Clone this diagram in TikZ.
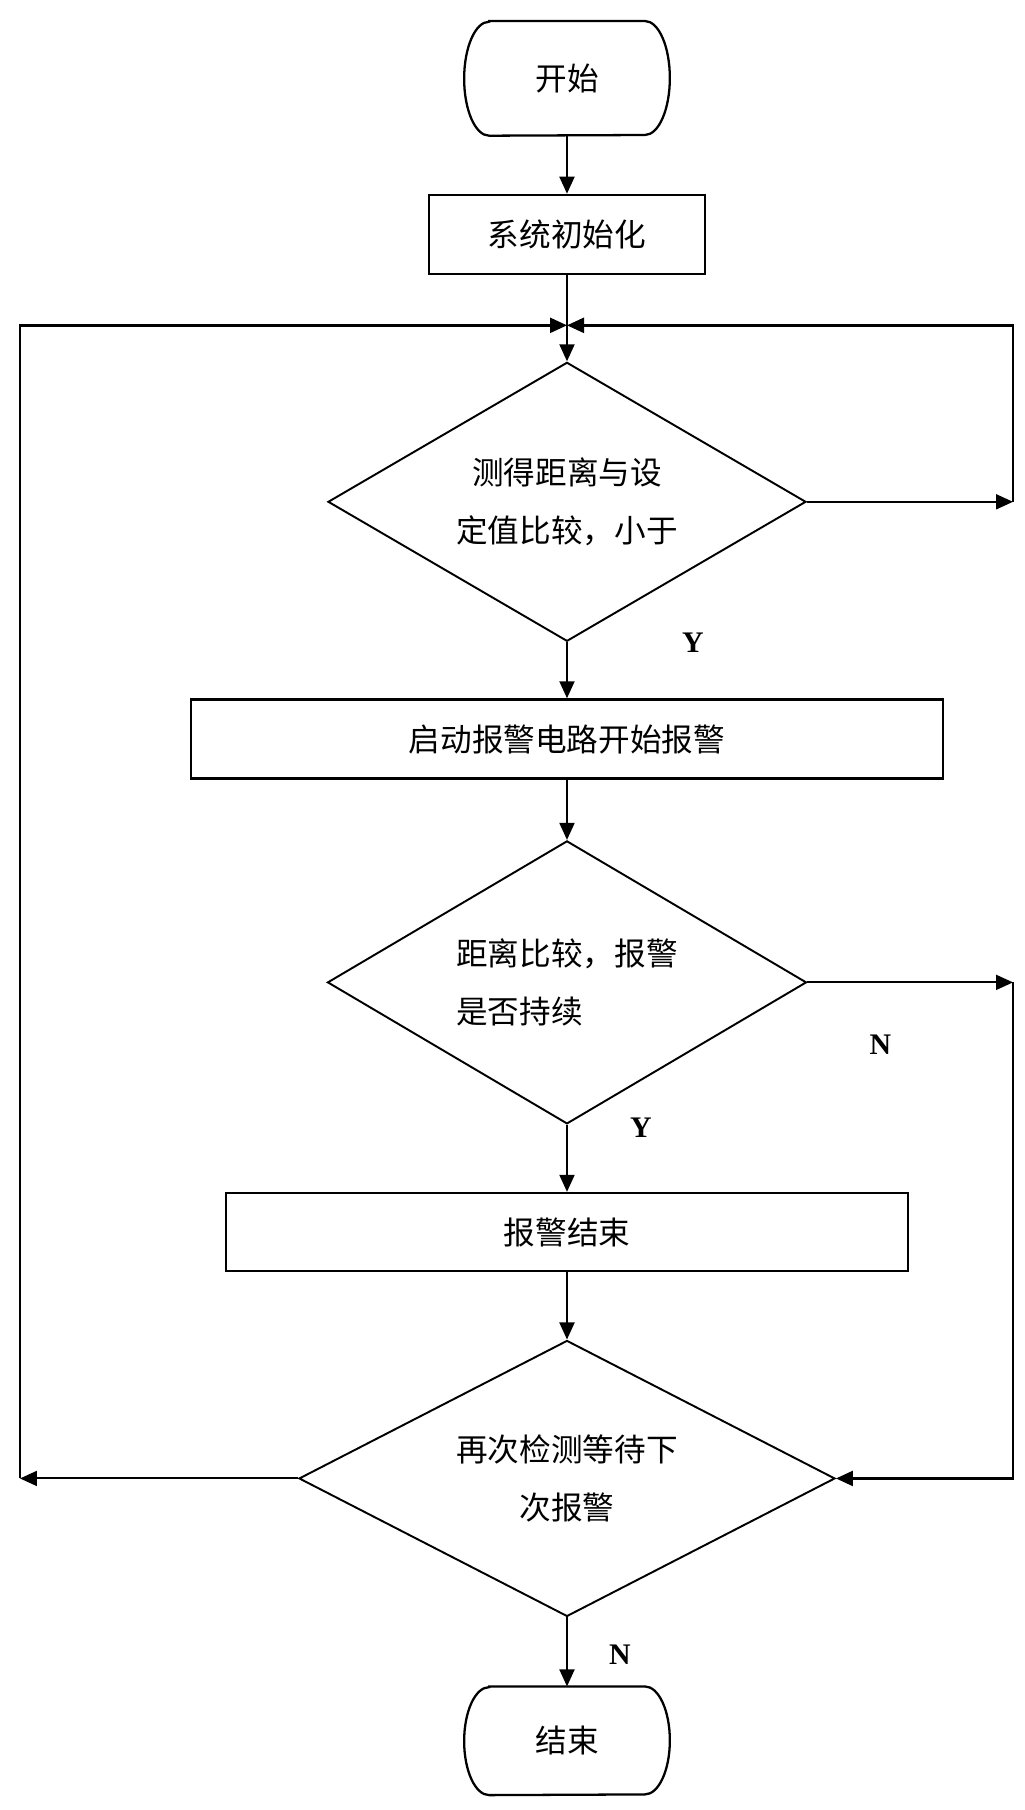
\documentclass[tikz,border=0pt]{standalone}
\usepackage{fontspec}
\setmainfont{Noto Sans CJK SC}
\newfontfamily\labfont{Liberation Serif}
\usetikzlibrary{shapes.geometric,positioning,calc,arrows.meta}

\begin{document}
\begin{tikzpicture}[font=\fontsize{18}{33}\selectfont,node distance=12mm,
 bx/.style={draw,line width=1.5pt,inner sep=0pt,minimum height=1.58cm},
 dm/.style={diamond,draw,line width=1.1pt,aspect=1.7,inner sep=0pt,align=center},
 tm/.style={inner sep=0pt,minimum width=4.1cm},
 ar/.style={-{Triangle[length=3.4mm,width=3mm]},line width=1.1pt},
 lp/.style={-{Triangle[length=3.4mm,width=3mm]},line width=1.4pt},
 lb/.style={font=\labfont\bfseries\fontsize{17}{20}\selectfont}]
\node[tm,minimum height=2.28cm] (st) {开始};
\node[bx,below=11.6mm of st,minimum width=5.52cm] (init) {系统初始化};
\node[dm,below=17.2mm of init,minimum width=9.56cm,minimum height=5.58cm] (d1) {测得距离与设\\定值比较，小于};
\node[bx,below=11.2mm of d1,minimum width=15.04cm] (b2) {启动报警电路开始报警};
\node[dm,below=12mm of b2,minimum width=9.58cm,minimum height=5.66cm,align=left] (d2) {距离比较，报警\\是否持续};
\node[bx,below=13.4mm of d2,minimum width=13.64cm,minimum height=1.56cm] (b3) {报警结束};
\node[dm,below=13.4mm of b3,minimum width=10.72cm,minimum height=5.52cm] (d4) {再次检测等待下\\次报警};
\node[tm,below=13.8mm of d4,minimum height=2.16cm] (en) {结束};
% terminal outlines
\foreach \n/\r in {st/11.4mm,en/10.8mm}
 \draw[line width=1.3pt] ([xshift=5mm]\n.north west) -- ([xshift=-5mm]\n.north east)
  arc[start angle=90,end angle=-90,x radius=5mm,y radius=\r] -- ([xshift=5mm]\n.south west)
  arc[start angle=270,end angle=90,x radius=5mm,y radius=\r] -- cycle;
\node[lb] (y1) at ([xshift=2.52cm]d1.south) {Y};
\node[lb] (n1) at ([xshift=1.46cm,yshift=-1.24cm]d2.east) {N};
\node[lb] (y2) at ([xshift=1.48cm,yshift=-0.06cm]d2.south) {Y};
\node[lb] (n2) at ([xshift=1.06cm,yshift=-0.74cm]d4.south) {N};
\coordinate[below=10mm of init] (jn);
\coordinate (lx) at ([xshift=-10.94cm]jn);
\coordinate (rx) at ([xshift=8.92cm]jn);
\draw[ar] (st)--(init); \draw[ar] (init)--(d1); \draw[ar] (d1)--(b2);
\draw[ar] (b2)--(d2); \draw[ar] (d2)--(b3); \draw[ar] (b3)--(d4); \draw[ar] (d4)--(en);
\draw[ar] (d1.east) -- (d1.east -| rx);
\draw[lp] (d1.east -| rx) |- (jn);
\draw[ar] (d2.east) -- (d2.east -| rx);
\draw[lp] (d2.east -| rx) |- (d4.east);
\draw[ar] (d4.west) -- (d4.west -| lx);
\draw[lp] (d4.west -| lx) |- (jn);
\useasboundingbox ([shift={(-11.34cm,0.42cm)}]st.north) rectangle ++(20.5cm,-36.2cm);
\end{tikzpicture}
\end{document}
